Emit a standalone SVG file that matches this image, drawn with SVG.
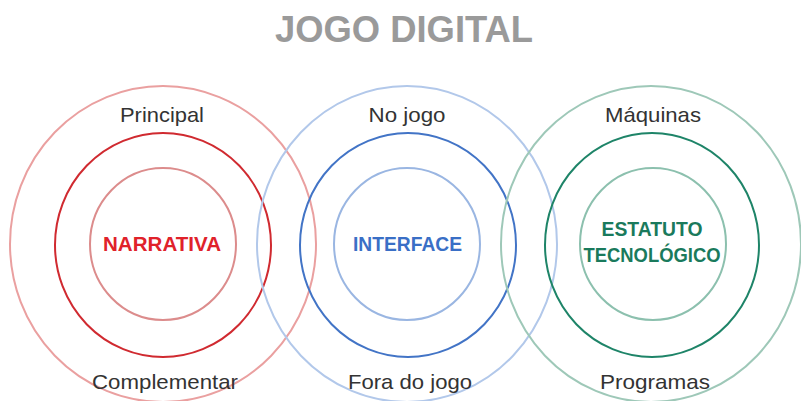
<svg xmlns="http://www.w3.org/2000/svg" width="801" height="401" viewBox="0 0 801 401">
<style>
  .title{font-family:"Liberation Sans",Arial,sans-serif;font-weight:bold;font-size:37px;fill:#9a9a9a;text-anchor:middle}
  .lbl{font-family:"Liberation Sans",Arial,sans-serif;font-size:21px;fill:#333;text-anchor:middle}
  .core{font-family:"Liberation Sans",Arial,sans-serif;font-weight:bold;font-size:20px;text-anchor:middle}
  ellipse{fill:none;stroke-width:2}
  .r1{stroke:#eaa0a0}.r2{stroke:#d02a30}.r3{stroke:#dc8c8c}
  .b1{stroke:#b2c8ea}.b2{stroke:#4274c6}.b3{stroke:#9ab6e2}
  .g1{stroke:#9ec8b8}.g2{stroke:#1e8468}.g3{stroke:#8cc0ae}
</style>
<rect width="801" height="401" fill="#fff"/>
<text class="title" x="404" y="42" textLength="258" lengthAdjust="spacingAndGlyphs">JOGO DIGITAL</text>
<g id="narrativa">
  <ellipse class="r1" cx="163" cy="244" rx="153" ry="158"/>
  <ellipse class="r2" cx="163" cy="245" rx="108" ry="112"/>
  <ellipse class="r3" cx="163" cy="244" rx="73" ry="76"/>
  <text class="lbl" x="162" y="122" textLength="84" lengthAdjust="spacingAndGlyphs">Principal</text>
  <text class="lbl" x="165" y="389" textLength="146" lengthAdjust="spacingAndGlyphs">Complementar</text>
  <text class="core" x="162" y="251" fill="#e0222a" textLength="118" lengthAdjust="spacingAndGlyphs">NARRATIVA</text>
</g>
<g id="interface">
  <ellipse class="b1" cx="407" cy="244" rx="150" ry="158"/>
  <ellipse class="b2" cx="408" cy="245" rx="108" ry="112"/>
  <ellipse class="b3" cx="407" cy="244" rx="73" ry="76"/>
  <text class="lbl" x="407" y="122" textLength="77" lengthAdjust="spacingAndGlyphs">No jogo</text>
  <text class="lbl" x="410" y="389" textLength="124" lengthAdjust="spacingAndGlyphs">Fora do jogo</text>
  <text class="core" x="407.5" y="251" fill="#3a6fc6" textLength="109" lengthAdjust="spacingAndGlyphs">INTERFACE</text>
</g>
<g id="estatuto">
  <ellipse class="g1" cx="651" cy="244" rx="150" ry="158"/>
  <ellipse class="g2" cx="652" cy="245" rx="107" ry="112"/>
  <ellipse class="g3" cx="653" cy="244" rx="73" ry="76"/>
  <text class="lbl" x="653" y="122" textLength="96" lengthAdjust="spacingAndGlyphs">Máquinas</text>
  <text class="lbl" x="655" y="389" textLength="110" lengthAdjust="spacingAndGlyphs">Programas</text>
  <text class="core" x="652" y="236" fill="#1a7a5c" textLength="101" lengthAdjust="spacingAndGlyphs">ESTATUTO</text>
  <text class="core" x="652" y="262" fill="#1a7a5c" textLength="137" lengthAdjust="spacingAndGlyphs">TECNOLÓGICO</text>
</g>
<g id="connectors"/>
</svg>
